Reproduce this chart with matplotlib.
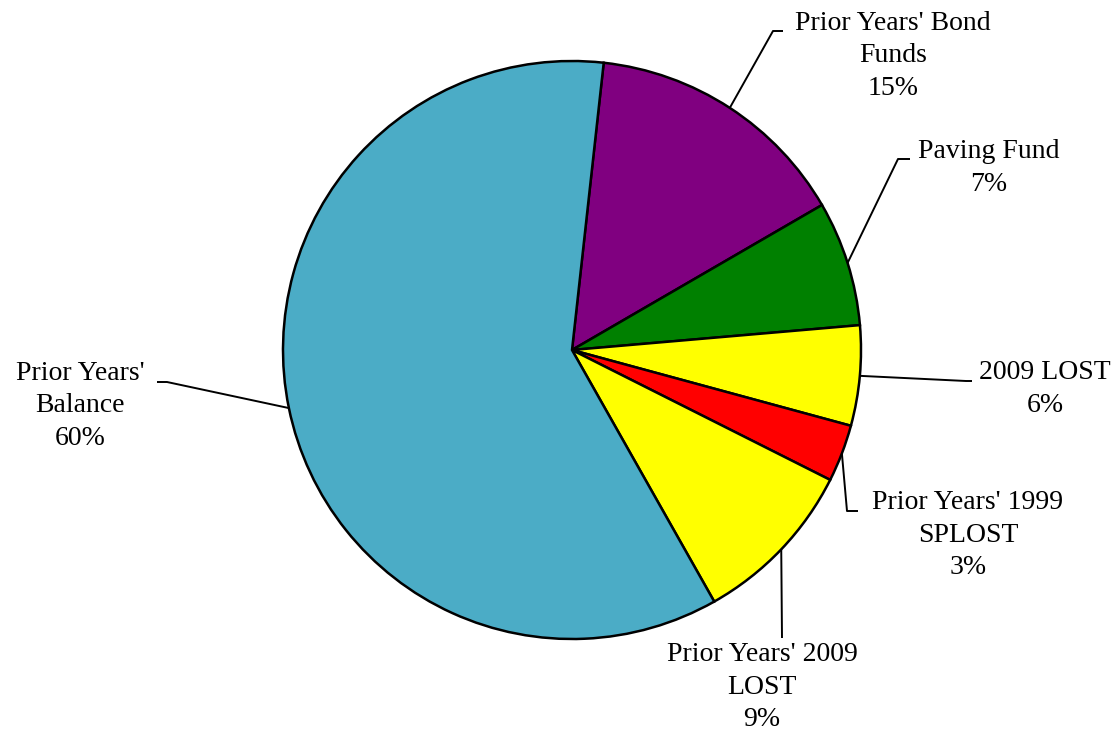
import numpy as np
import matplotlib.pyplot as plt

# slice data, clockwise from just right of 12 o'clock
labels = ["Prior Years' Bond\nFunds", "Paving Fund", "2009 LOST",
          "Prior Years' 1999\nSPLOST", "Prior Years' 2009\nLOST",
          "Prior Years'\nBalance"]
values = [14.9, 7.0, 5.6, 3.2, 9.4, 60.0]
colors = ['#800080', '#008000', '#FFFF00', '#FF0000', '#FFFF00', '#4BACC6']

W, H = 1114, 733
center = (572, H - 350)
radius = 289
start = 83.7

# label layout in pixel coords (y measured from top): text centre, elbow, tail end
text_pos = [(893, 56), (989, 168), (1045, 389), (968, 535), (762, 687), (80, 406)]
elbows = [(773, 31), (898, 159), (966, 381), (847, 511), (782, 638), (167, 382)]
tails = [(783, 31), (910, 159), (972, 381), (858, 511), (782, 638), (157, 382)]

fig = plt.figure(figsize=(W / 100, H / 100), dpi=100)
ax = fig.add_axes([0, 0, 1, 1])

wedges, _ = ax.pie(values, colors=colors, startangle=start, counterclock=False,
                   center=center, radius=radius, frame=True,
                   wedgeprops=dict(edgecolor='black', linewidth=1.8))
ax.set_xlim(0, W)
ax.set_ylim(0, H)
ax.set_aspect('equal')
ax.axis('off')

total = sum(values)
for w, lab, v, tp, el, tl in zip(wedges, labels, values, text_pos, elbows, tails):
    mid = np.deg2rad((w.theta1 + w.theta2) / 2)
    ex = center[0] + radius * np.cos(mid)
    ey = center[1] + radius * np.sin(mid)
    ax.plot([ex, el[0], tl[0]], [ey, H - el[1], H - tl[1]], color='black', lw=1.4,
            solid_capstyle='butt')
    pct = '%.0f%%' % (v / total * 100)
    ax.text(tp[0], H - tp[1], lab + '\n' + pct, ha='center', va='center',
            multialignment='center', fontsize=20, family='Liberation Serif',
            linespacing=1.4)

fig.savefig('out.png', dpi=100)
